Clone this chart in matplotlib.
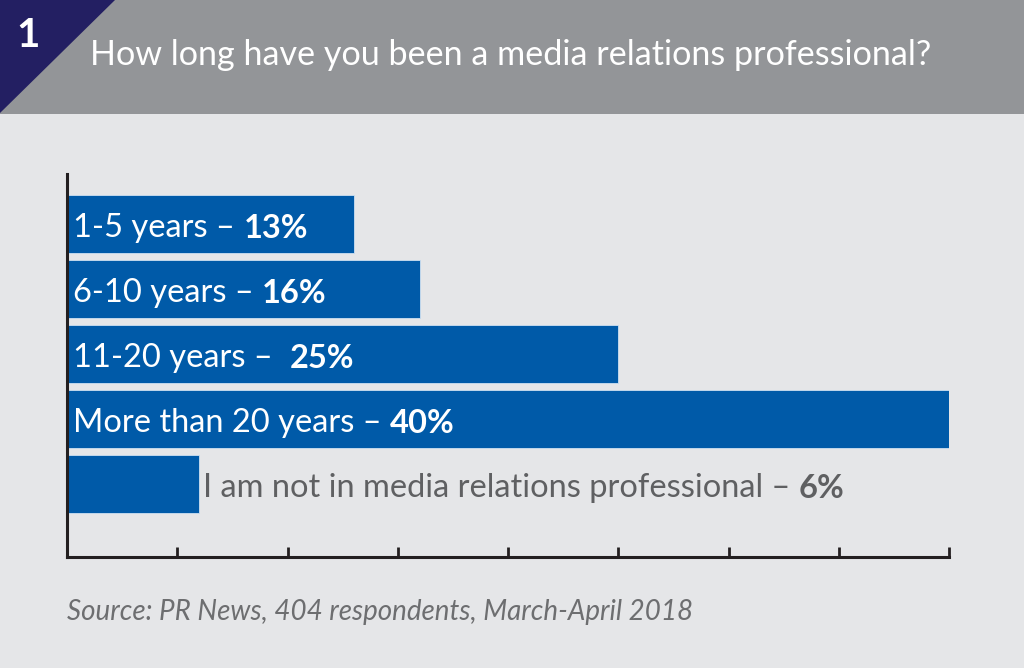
import matplotlib
matplotlib.use("Agg")
from matplotlib import pyplot as plt
from matplotlib.patches import Rectangle, Polygon

# data
categories = ["1-5 years \u2013 ", "6-10 years \u2013 ", "11-20 years \u2013  ",
              "More than 20 years \u2013 ", "I am not in media relations professional \u2013 "]
values = [13, 16, 25, 40, 6]
xticks = [0, 5, 10, 15, 20, 25, 30, 35, 40]
title = "How long have you been a media relations professional?"
number = "1"
source = "Source: PR News, 404 respondents, March-April 2018"

blue = "#005aa8"
bg = "#e5e6e8"
header = "#939598"
navy = "#231f62"
grey_text = "#5f6062"
W, H = 1024, 668

plt.rcParams['font.family'] = ['Lato', 'DejaVu Sans']

fig = plt.figure(figsize=(W / 100, H / 100), dpi=100)
fig.patch.set_facecolor(bg)

# header band and corner triangle
fig.add_artist(Rectangle((0, 1 - 114 / H), 1, 114 / H, transform=fig.transFigure,
                         facecolor=header, edgecolor="none"))
fig.add_artist(Polygon([(0, 1), (115 / W, 1), (0, 1 - 113 / H)], closed=True,
                       transform=fig.transFigure, facecolor=navy, edgecolor="none"))
fig.text(16 / W, 1 - 47 / H, number, color="white", fontsize=29, fontweight="bold",
         ha="left", va="baseline")
fig.text(90 / W, 1 - 65 / H, title, color="white", fontsize=24.6,
         ha="left", va="baseline")

ax = fig.add_axes([67 / W, 1 - 557 / H, 882 / W, 383 / H])
ax.set_facecolor("none")
ypos = list(range(len(values)))
ax.barh(ypos, values, height=0.9, color=blue, edgecolor="#cde0f2", linewidth=0.6)
ax.set_xlim(0, 40)
ax.set_ylim(4 + 73 / 65, -50 / 65)
ax.set_xticks(xticks)
ax.set_xticklabels([])
ax.set_yticks([])
for s in ["top", "right"]:
    ax.spines[s].set_visible(False)
for s in ["left", "bottom"]:
    ax.spines[s].set_linewidth(2.2)
    ax.spines[s].set_color("#231f20")
ax.tick_params(axis="x", direction="in", length=7, width=2, color="#231f20")

for i, (cat, v) in enumerate(zip(categories, values)):
    if i < 4:
        x0, dx, col = 0, 4.5, "white"
    else:
        x0, dx, col = v, 3.0, grey_text
    t = ax.annotate(cat, xy=(x0, i), xytext=(dx, -9.5), textcoords="offset points",
                    color=col, fontsize=23.5, ha="left", va="baseline")
    ax.annotate(f"{v}%", xy=(1, 0), xycoords=t, color=col, fontsize=23.5,
                fontweight="bold", ha="left", va="bottom")

fig.text(67 / W, 1 - 620 / H, source, color="#6d6e70", fontsize=20, style="italic",
         ha="left", va="baseline")

fig.savefig("out.png", dpi=100, facecolor=fig.get_facecolor())
